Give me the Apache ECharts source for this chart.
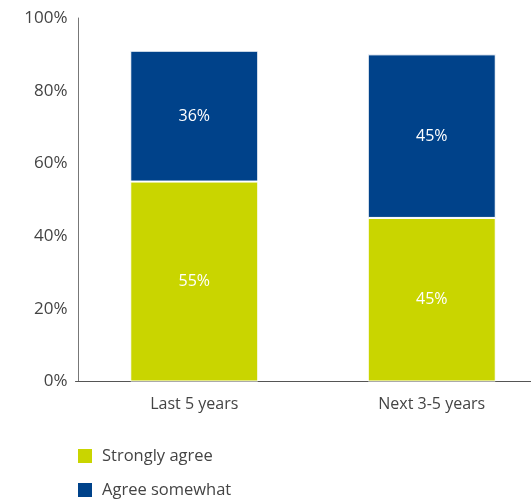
<!DOCTYPE html>
<html>
<head>
<meta charset="utf-8">
<style>
  html, body { margin: 0; padding: 0; background: #fff; }
  #chart { width: 531px; height: 502px; }
</style>
<script src="https://cdn.jsdelivr.net/npm/echarts@6/dist/echarts.min.js"></script>
</head>
<body>
<div id="chart"></div>
<script>
// Survey answers per period (percent of respondents)
const categories = ['Last 5 years', 'Next 3-5 years'];
const seriesNames = ['Strongly agree', 'Agree somewhat'];
const stronglyAgree = [55, 45];
const agreeSomewhat = [36, 45];
const yTicks = [0, 20, 40, 60, 80, 100];

const GREEN = '#C9D500';
const BLUE = '#00428A';
const FONT = '"Open Sans", "Noto Sans", sans-serif';

const chart = echarts.init(document.getElementById('chart'));

const segmentLabel = {
  show: true,
  position: 'inside',
  color: '#ffffff',
  fontFamily: FONT,
  fontSize: 16,
  formatter: p => p.value + '%'
};

chart.setOption({
  animation: false,
  textStyle: { fontFamily: FONT },
  // the plot area runs past the right edge of the canvas
  grid: {
    left: 75.5, top: 18, bottom: 120.5, right: -19.5,
    containLabel: false,
    outerBoundsMode: 'none'
  },
  legend: {
    orient: 'vertical',
    left: 76,
    top: 447,
    padding: 0,
    itemWidth: 16,
    itemHeight: 16,
    itemGap: 16,
    icon: 'rect',
    data: seriesNames,
    textStyle: { color: '#444', fontSize: 16.5, fontFamily: FONT, padding: [0, 0, 0, 4] }
  },
  xAxis: {
    type: 'category',
    data: categories,
    axisLine: { show: true, lineStyle: { color: '#555', width: 1 } },
    axisTick: { show: false },
    axisLabel: { color: '#444', fontSize: 16, margin: 15, fontFamily: FONT },
    splitLine: { show: false }
  },
  yAxis: {
    type: 'value',
    min: yTicks[0],
    max: yTicks[yTicks.length - 1],
    interval: yTicks[1] - yTicks[0],
    offset: -3,
    axisLine: { show: true, lineStyle: { color: '#777', width: 1 } },
    axisTick: { show: false },
    splitLine: { show: false },
    axisLabel: { color: '#444', fontSize: 17, margin: 11, fontFamily: FONT, formatter: '{value}%' }
  },
  series: [
    {
      name: seriesNames[0],
      type: 'bar',
      stack: 'total',
      barWidth: 128,
      data: stronglyAgree,
      itemStyle: { color: GREEN, borderColor: '#fff', borderWidth: 1 },
      label: segmentLabel
    },
    {
      name: seriesNames[1],
      type: 'bar',
      stack: 'total',
      barWidth: 128,
      data: agreeSomewhat,
      itemStyle: { color: BLUE, borderColor: '#fff', borderWidth: 1 },
      label: segmentLabel
    }
  ]
});
</script>
</body>
</html>
